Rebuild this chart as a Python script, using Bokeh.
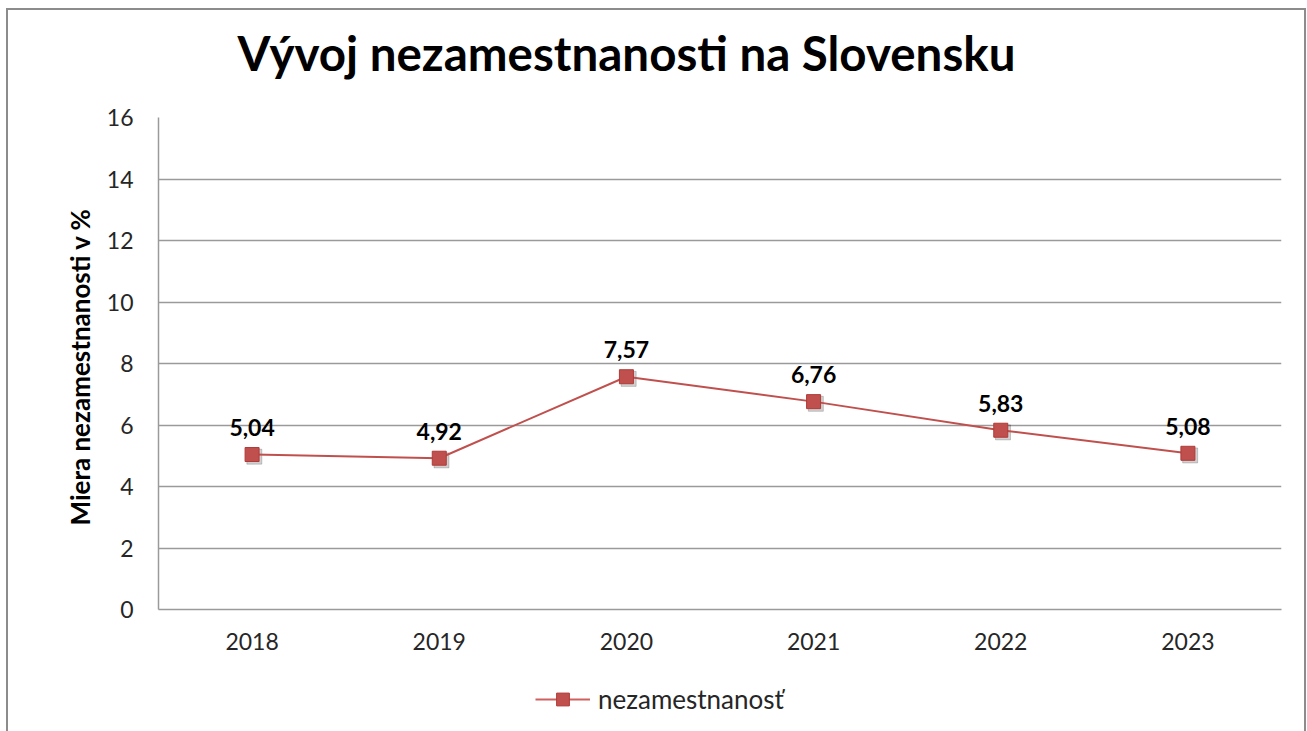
from bokeh.plotting import figure
from bokeh.layouts import column
from bokeh.models import ColumnDataSource, Legend, LegendItem, LabelSet, Label, Range1d, FixedTicker
from bokeh.core.properties import value
from bokeh.transform import dodge
from bokeh.embed import file_html
from bokeh.resources import INLINE

title_text = "Vývoj nezamestnanosti na Slovensku"
years = ["2018", "2019", "2020", "2021", "2022", "2023"]
rates = [5.04, 4.92, 7.57, 6.76, 5.83, 5.08]
rate_labels = ["5,04", "4,92", "7,57", "6,76", "5,83", "5,08"]
y_ticks = [0, 2, 4, 6, 8, 10, 12, 14, 16]
y_title = "Miera nezamestnanosti  v %"
series_name = "nezamestnanosť"

FONT = "Lato"
RED = "#c0504d"
GRID = "#9a9a9a"
W = 1296
ML, MR = 150, 23

src = ColumnDataSource(dict(x=list(range(len(years))), y=rates, lab=rate_labels))

# ---- title strip
t = figure(width=W, height=87, output_backend="svg", toolbar_location=None,
           x_range=Range1d(0, 1), y_range=Range1d(0, 1),
           x_axis_location=None, y_axis_location=None,
           min_border_left=ML, min_border_right=MR, min_border_top=0, min_border_bottom=0)
t.outline_line_color = None
t.grid.grid_line_color = None
t.add_layout(Label(x=79, y=45, x_units="screen", y_units="screen", text=title_text,
                   text_font=FONT, text_font_size="47.5px", text_font_style="bold",
                   text_color="#000000", text_baseline="alphabetic", text_align="left"))

# ---- main chart
p = figure(width=W, height=573, output_backend="svg", toolbar_location=None,
           x_range=Range1d(-0.5, len(years) - 0.5), y_range=Range1d(0, 16),
           min_border_left=ML, min_border_right=MR, min_border_top=20, min_border_bottom=61)
p.outline_line_color = None
p.xgrid.grid_line_color = None
p.ygrid.grid_line_color = GRID
p.ygrid.grid_line_width = 1.5

p.xaxis.ticker = FixedTicker(ticks=list(range(len(years))))
p.xaxis.major_label_overrides = {i: y for i, y in enumerate(years)}
p.yaxis.ticker = FixedTicker(ticks=y_ticks)
for ax in (p.xaxis, p.yaxis):
    ax.axis_line_color = GRID
    ax.axis_line_width = 1.5
    ax.major_tick_line_color = None
    ax.major_tick_out = 0
    ax.major_tick_in = 0
    ax.minor_tick_line_color = None
    ax.major_label_text_font = FONT
    ax.major_label_text_font_size = "23px"
    ax.major_label_text_color = "#262626"
p.xaxis.major_label_standoff = 23
p.yaxis.major_label_standoff = 25
p.yaxis.axis_label = y_title
p.yaxis.axis_label_text_font = FONT
p.yaxis.axis_label_text_font_size = "26px"
p.yaxis.axis_label_text_font_style = "bold"
p.yaxis.axis_label_text_color = "#000000"
p.yaxis.axis_label_standoff = 8

# shadow
p.scatter(dodge("x", 0.012), dodge("y", -0.07), source=src, marker="square", size=15,
          color="#000000", alpha=0.18)
p.line("x", "y", source=src, line_color=RED, line_width=2)
p.scatter("x", "y", source=src, marker="square", size=14, fill_color=RED,
          line_color="#b03a37", line_width=1)

labels = LabelSet(x="x", y="y", text="lab", source=src, text_align="center",
                  text_baseline="middle", y_offset=27, text_font=value(FONT),
                  text_font_size="23px", text_font_style="bold", text_color="#000000")
p.add_layout(labels)

# ---- legend strip
q = figure(width=W, height=61, output_backend="svg", toolbar_location=None,
           x_range=Range1d(-0.5, len(years) - 0.5), y_range=Range1d(100, 101),
           x_axis_location=None, y_axis_location=None,
           min_border_left=ML, min_border_right=MR, min_border_top=0, min_border_bottom=0)
q.outline_line_color = None
q.grid.grid_line_color = None
lq = q.line("x", "y", source=src, line_color="#d0605d", line_width=2)
sq = q.scatter("x", "y", source=src, marker="square", size=16, fill_color=RED,
               line_color="#b03a37", line_width=1)
legend = Legend(items=[LegendItem(label=series_name, renderers=[lq, sq])],
                location=(377, 16), orientation="horizontal",
                label_text_font=FONT, label_text_font_size="26px", label_text_color="#262626",
                glyph_width=55, glyph_height=32, border_line_color=None,
                background_fill_alpha=0, label_standoff=8)
q.add_layout(legend)

lay = column(t, p, q, spacing=0)
lay.styles = {"margin-left": "6px", "margin-top": "8px",
              "border-top": "2px solid #8c8c8c", "border-left": "2px solid #8c8c8c",
              "border-right": "2px solid #8c8c8c"}

open("out.html", "w").write(file_html(lay, INLINE))
